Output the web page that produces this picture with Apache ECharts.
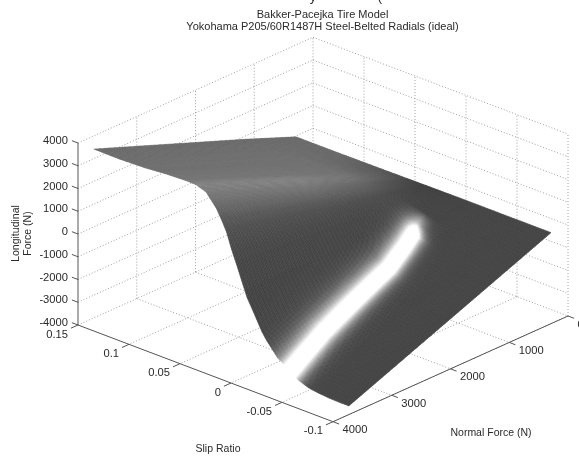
<!DOCTYPE html>
<html><head><meta charset="utf-8">
<style>html,body{margin:0;background:#fff}#c{width:579px;height:459px;filter:blur(0.55px)}</style>
<script src="https://cdn.jsdelivr.net/npm/echarts@6/dist/echarts.min.js"></script>
</head><body><div id="c"></div>
<script>
// ---- tick values and labels
const zTicks=[-4000,-3000,-2000,-1000,0,1000,2000,3000,4000];
const slipTicks=[0.15,0.1,0.05,0,-0.05,-0.1];
const slipLabels=['0.15','0.1','0.05','0','-0.05','-0.1'];
const forceTicks=[0,1000,2000,3000,4000];
// ---- surface values, longitudinal force (N), one array per normal force
const slips=[0.15,0.125,0.1,0.08,0.06,0.05,0.04,0.03,0.025,0.02,0.015,0.01,0.005,0,-0.005,-0.01,-0.015,-0.02,-0.03,-0.04,-0.05,-0.06,-0.07,-0.08,-0.09,-0.1];
const forces=[290,1150,2010,2870,3730];
const fx290=[-40,-40,-35,-30,-25,-20,-20,-15,-15,-10,-10,-5,-5,0,0,0,0,0,0,0,0,0,0,0,0,0];
const fx1150=[855,852,862,882,892,890,850,715,612,498,325,178,22,-134,-240,-350,-458,-538,-672,-752,-830,-872,-890,-900,-904,-905];
const fx2010=[1710,1705,1725,1765,1785,1780,1700,1430,1225,995,650,355,45,-268,-480,-700,-915,-1075,-1345,-1505,-1660,-1745,-1780,-1800,-1808,-1810];
const fx2870=[2565,2558,2588,2648,2678,2670,2550,2145,1838,1493,975,533,68,-402,-720,-1050,-1373,-1613,-2018,-2258,-2490,-2618,-2670,-2700,-2711,-2715];
const fx3730=[3420,3410,3450,3530,3570,3560,3400,2860,2450,1990,1300,710,90,-536,-960,-1400,-1830,-2150,-2690,-3010,-3320,-3490,-3560,-3600,-3615,-3620];
const surface=[fx290,fx1150,fx2010,fx2870,fx3730];
// ---- gray levels, one array per normal force
const gray290=[104,104,100,92,82,76,72,68,66,65,65,65,65,65,65,65,65,65,65,65,65,65,65,65,65,65];
const gray1150=[104,107,110,111,112,114,106,92,82,74,70,67,66,65,65,65,65,65,65,65,65,65,65,65,65,65];
const gray2010=[104,107,110,112,116,128,120,100,86,76,70,67,66,65,65,65,65,65,65,65,65,65,65,65,65,65];
const gray2870=[104,107,110,112,116,128,120,100,86,76,70,67,66,65,65,65,65,65,65,65,65,65,65,65,65,65];
const gray3730=[104,107,110,112,116,128,120,100,86,76,70,67,66,65,65,65,65,65,65,65,65,65,65,65,65,65];
const grays=[gray290,gray1150,gray2010,gray2870,gray3730];
const glintForce=[800,1000,1160,1400,1780,2460,3040,3730];
const glintSlip=[-0.006,-0.010,-0.016,-0.021,-0.0275,-0.032,-0.036,-0.043];
const glintGain=[0,130,320,320,320,320,320,320];

function proj(s,f,z){
  return [333-1020*(s+0.1)+0.05875*(4000-f),
          421.7-386.8*(s+0.1)-0.026425*(4000-f)-0.02275*(z+4000)];
}
function lerpArr(xs,ys,x){
  if(x<=xs[0])return ys[0];
  for(let i=1;i<xs.length;i++) if(x<=xs[i]){const t=(x-xs[i-1])/(xs[i]-xs[i-1]);return ys[i-1]+t*(ys[i]-ys[i-1]);}
  return ys[ys.length-1];
}
function shade(i,j,ts,tf){
  const g0=grays[j][i]+(grays[j][i+1]-grays[j][i])*ts;
  const g1=grays[j+1][i]+(grays[j+1][i+1]-grays[j+1][i])*ts;
  const base=g0+(g1-g0)*tf;
  const f=forces[j]+(forces[j+1]-forces[j])*tf;
  const s=slips[i]+(slips[i+1]-slips[i])*ts;
  const c=lerpArr(glintForce,glintSlip,f), a=lerpArr(glintForce,glintGain,f);
  const d=s-c, w=d>0?0.0095:0.0075;
  const g=Math.min(255,Math.round(base+a*Math.exp(-Math.pow(Math.abs(d)/w,1.5))));
  return 'rgb('+g+','+g+','+g+')';
}
function surfacePoint(i,j,ts,tf){
  const s=slips[i]+(slips[i+1]-slips[i])*ts, f=forces[j]+(forces[j+1]-forces[j])*tf;
  const z0=surface[j][i]+(surface[j][i+1]-surface[j][i])*ts;
  const z1=surface[j+1][i]+(surface[j+1][i+1]-surface[j+1][i])*ts;
  return proj(s,f,z0+(z1-z0)*tf);
}
const cells=[];
for(let j=0;j<forces.length-1;j++)for(let i=0;i<slips.length-1;i++)cells.push([i,j]);

function renderCell(p,api){
  const i=api.value(0), j=api.value(1);
  const fine=slips[i]<=0.04&&slips[i]>=-0.09;
  const ns=Math.max(1,Math.ceil((slips[i]-slips[i+1])/(fine?0.001:0.002))), nf=fine?36:10, ch=[];
  for(let b=0;b<nf;b++)for(let a=0;a<ns;a++){
    const q=[[a/ns,b/nf],[(a+1)/ns,b/nf],[(a+1)/ns,(b+1)/nf],[a/ns,(b+1)/nf]]
      .map(t=>api.coord(surfacePoint(i,j,t[0],t[1])));
    const col=shade(i,j,(a+0.5)/ns,(b+0.5)/nf);
    ch.push({type:'polygon',shape:{points:q},style:{fill:col,stroke:col,lineWidth:0.5},silent:true});
  }
  return {type:'group',children:ch};
}

// dotted box grid
const gridLines=[];
zTicks.forEach(z=>{
  gridLines.push([[0.15,4000,z],[0.15,0,z]]);
  gridLines.push([[0.15,0,z],[-0.1,0,z]]);
});
forceTicks.forEach(f=>{ if(f<4000) gridLines.push([[0.15,f,-4000],[0.15,f,4000]]);
  if(f>0&&f<4000) gridLines.push([[0.15,f,-4000],[-0.1,f,-4000]]);});
slipTicks.forEach(s=>{ if(s<0.15){gridLines.push([[s,0,-4000],[s,0,4000]]);gridLines.push([[s,0,-4000],[s,4000,-4000]]);}});
// solid axes and ticks
const axisLines=[
  [[0.15,4000,-4000],[0.15,4000,4000]],
  [[0.15,4000,-4000],[-0.1,4000,-4000]],
  [[-0.1,4000,-4000],[-0.1,0,-4000]]
];
zTicks.forEach(z=>axisLines.push([[0.15,4000,z],[0.156,4000,z]]));
slipTicks.forEach(s=>axisLines.push([[s,4000,-4000],[s,4120,-4000]]));
forceTicks.forEach(f=>axisLines.push([[-0.1,f,-4000],[-0.106,f,-4000]]));

function lineSeries(lines,style){
  return {type:'custom',coordinateSystem:'cartesian2d',clip:false,silent:true,animation:false,
    data:lines.map((l,k)=>[k,0]),
    renderItem:(p,api)=>{const l=lines[api.value(0)];
      return {type:'line',shape:{x1:api.coord(proj(...l[0]))[0],y1:api.coord(proj(...l[0]))[1],
        x2:api.coord(proj(...l[1]))[0],y2:api.coord(proj(...l[1]))[1]},style:style,silent:true};}};
}
const tickTexts=[];
zTicks.forEach(z=>tickTexts.push({at:[0.15,4000,z],t:String(z),dx:-10,dy:-2,align:'right'}));
slipTicks.forEach((s,k)=>tickTexts.push({at:[s,4000,-4000],t:slipLabels[k],dx:-10,dy:9.5,align:'right'}));
forceTicks.forEach(f=>tickTexts.push({at:[-0.1,f,-4000],t:String(f),dx:9.6,dy:8.5,align:'left'}));
const FONT='"Liberation Sans",Arial,sans-serif', INK='#2a2a2a';
const labelSeries={type:'custom',coordinateSystem:'cartesian2d',clip:false,silent:true,animation:false,
  data:tickTexts.map((l,k)=>[k,0]),
  renderItem:(p,api)=>{const l=tickTexts[api.value(0)],c=api.coord(proj(...l.at));
    return {type:'text',x:c[0]+l.dx,y:c[1]+l.dy,silent:true,
      style:{text:l.t,fill:INK,font:'11.2px '+FONT,align:l.align,verticalAlign:'middle'}};}};

const chart=echarts.init(document.getElementById('c'),null,{renderer:'canvas'});
chart.setOption({
  animation:false,backgroundColor:'#fff',
  title:{text:'Bakker-Pacejka Tire Model\nYokohama P205/60R1487H Steel-Belted Radials (ideal)',
    left:322.5,top:9,textAlign:'center',padding:0,
    textStyle:{fontFamily:FONT,fontSize:11,fontWeight:'normal',color:INK,lineHeight:12}},
  grid:{left:0,right:0,top:0,bottom:0},
  xAxis:{type:'value',min:0,max:579,show:false},
  yAxis:{type:'value',min:0,max:459,inverse:true,show:false},
  graphic:[
    {type:'text',x:313,y:3.5,silent:true,style:{text:'y',fill:INK,font:'13px '+FONT,align:'center',verticalAlign:'bottom'}},
    {type:'text',x:380,y:4,silent:true,style:{text:'(',fill:INK,font:'13px '+FONT,align:'center',verticalAlign:'bottom'}},
    {type:'text',x:218,y:449,silent:true,style:{text:'Slip Ratio',fill:INK,font:'10.5px '+FONT,align:'center',verticalAlign:'middle'}},
    {type:'text',x:491,y:433,silent:true,style:{text:'Normal Force (N)',fill:INK,font:'10.5px '+FONT,align:'center',verticalAlign:'middle'}},
    {type:'text',x:22,y:233.5,rotation:Math.PI/2,silent:true,style:{text:'Longitudinal\nForce (N)',fill:INK,font:'10.5px '+FONT,lineHeight:12.5,align:'center',verticalAlign:'middle'}}
  ],
  series:[
    lineSeries(gridLines,{stroke:'#a0a0a0',lineWidth:1,lineDash:[1,2]}),
    {type:'custom',coordinateSystem:'cartesian2d',clip:false,silent:true,animation:false,progressive:0,data:cells,renderItem:renderCell},
    lineSeries(axisLines,{stroke:'#555',lineWidth:1}),
    labelSeries
  ]
});
</script></body></html>
